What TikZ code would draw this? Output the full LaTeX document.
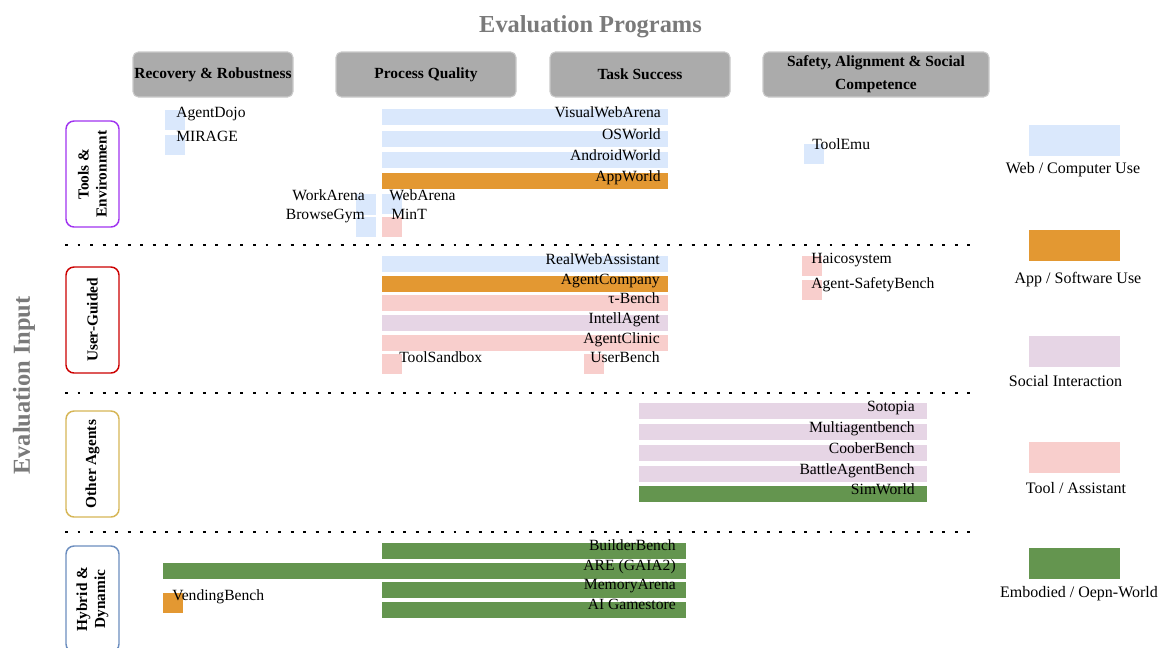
\documentclass[tikz,border=0pt]{standalone}
\usepackage{fontspec}
\setmainfont{Liberation Serif}
\usepackage{xcolor}
\definecolor{WebUse}{HTML}{DAE8FC}
\definecolor{AppUse}{HTML}{E39832}
\definecolor{SocialUse}{HTML}{E6D5E5}
\definecolor{ToolUse}{HTML}{F8CECC}
\definecolor{EmbodiedUse}{HTML}{64954F}
\definecolor{HeadFill}{HTML}{ABABAB}
\definecolor{HeadLine}{HTML}{CACACA}
\definecolor{TitleGray}{HTML}{7A7A7A}
\definecolor{RowTools}{HTML}{A033F0}
\definecolor{RowUser}{HTML}{CC0000}
\definecolor{RowOther}{HTML}{D6B656}
\definecolor{RowHybrid}{HTML}{6C8EBF}
\usepackage{tikz}
\usetikzlibrary{positioning}

\begin{document}
\begin{tikzpicture}[x=0.75pt, y=-0.75pt,
    headbox/.style={draw=HeadLine, fill=HeadFill, rounded corners=4pt, line width=0.8pt,
      minimum height=33.75pt, inner sep=0pt, align=center,
      font=\fontsize{11.6}{17}\selectfont\bfseries},
    rowbox/.style={draw=#1, fill=white, rounded corners=6pt, line width=1.1pt, rotate=90,
      minimum width=79.5pt, minimum height=39.75pt, inner sep=0pt, align=center,
      font=\fontsize{11.5}{13.5}\selectfont\bfseries},
    bench/.style={inner sep=0pt, font=\fontsize{11.7}{14}\selectfont},
    legtext/.style={inner sep=0pt, anchor=base, font=\fontsize{12}{14}\selectfont},
    sepline/.style={line width=2.2pt, dash pattern=on 2.2pt off 7.2pt},
    bigtitle/.style={inner sep=0pt, anchor=base, text=TitleGray,
      font=\fontsize{18.3}{22}\selectfont\bfseries}]
  \useasboundingbox (0,0) rectangle (1161,647);
  \clip (0,0) rectangle (1161,647);

  % Axis titles
  \node[bigtitle] (programs) at (590.5,32) {Evaluation Programs};
  \node[bigtitle, rotate=90] (input) at (30,385.5) {Evaluation Input};

  % Program columns (top)
  \node[headbox, minimum width=120pt] (recovery) at (213,74.5) {Recovery \& Robustness};
  \node[headbox, minimum width=135pt] (process) at (426,74.5) {Process Quality};
  \node[headbox, minimum width=135pt] (success) at (640,74.5) {Task Success};
  \node[headbox, minimum width=169.5pt, text depth=3pt] (safety) at (876,74.5) {Safety, Alignment \& Social\\Competence};

  % Input rows (left)
  \node[rowbox=RowTools] (tools) at (92.5,174) {Tools \&\\Environment};
  \node[rowbox=RowUser] (user) at (92.5,320) {User-Guided};
  \node[rowbox=RowOther] (other) at (92.5,464) {Other Agents};
  \node[rowbox=RowHybrid] (hybrid) at (92.5,599) {Hybrid \&\\Dynamic};

  % Row separators
  \foreach \y in {245, 393, 532} {
    \draw[sepline] (65,\y) -- (975,\y);
  }

  % Tools & Environment
  \foreach \y/\name/\col [count=\i] in {109/VisualWebArena/WebUse, 131/OSWorld/WebUse,
      152/AndroidWorld/WebUse, 173/AppWorld/AppUse} {
    \fill[\col] (382,\y) rectangle (668,\y+16);
    \node[bench, anchor=base east] (te-\i) at (661,\y+8) {\name};
  }
  \fill[WebUse] (356,194) rectangle ++(20,21);
  \fill[WebUse] (356,217) rectangle ++(20,20);
  \node[bench, anchor=base east] (workarena) at (365,200) {WorkArena};
  \node[bench, anchor=base east] (browsegym) at (365,219) {BrowseGym};

  % User-Guided
  \foreach \y/\name/\col [count=\i] in {256/RealWebAssistant/WebUse, 276/AgentCompany/AppUse,
      295/τ-Bench/ToolUse, 315/IntellAgent/SocialUse, 335/AgentClinic/ToolUse} {
    \fill[\col] (382,\y) rectangle (668,\y+16);
    \node[bench, anchor=base east] (ug-\i) at (660,\y+8) {\name};
  }

  % Other Agents
  \foreach \y/\name/\col [count=\i] in {403/Sotopia/SocialUse, 424/Multiagentbench/SocialUse,
      445/CooberBench/SocialUse, 466/BattleAgentBench/SocialUse, 486/SimWorld/EmbodiedUse} {
    \fill[\col] (639,\y) rectangle (927,\y+16);
    \node[bench, anchor=base east] (oa-\i) at (915,\y+8) {\name};
  }

  % Hybrid & Dynamic
  \foreach \y/\x/\name [count=\i] in {543/382/BuilderBench, 563/163/ARE (GAIA2),
      582/382/MemoryArena, 602/382/AI Gamestore} {
    \fill[EmbodiedUse] (\x,\y) rectangle (686,\y+16);
    \node[bench, anchor=base east] (hd-\i) at (676,\y+7) {\name};
  }

  % Single benchmarks (small squares)
  \foreach \x/\y/\col/\tx/\ty/\name [count=\i] in {165/110/WebUse/176/117/AgentDojo,
      165/135/WebUse/176/141/MIRAGE, 382/194/WebUse/389/200/WebArena,
      382/217/ToolUse/391/219/MinT, 804/144/WebUse/812/149/ToolEmu,
      802/256/ToolUse/811/263/Haicosystem, 802/280/ToolUse/811/288/Agent-SafetyBench,
      382/354/ToolUse/399/362/ToolSandbox, 584/354/ToolUse/590/362/UserBench,
      163/593/AppUse/172/600/VendingBench} {
    \fill[\col] (\x,\y) rectangle ++(20,20);
    \node[bench, anchor=base west] (sq-\i) at (\tx,\ty) {\name};
  }

  % Legend
  \foreach \y/\tx/\ty/\col/\name [count=\i] in {125/1073/173/WebUse/{Web / Computer Use},
      230/1078/283/AppUse/{App / Software Use}, 336/1065.5/386/SocialUse/{Social Interaction},
      442/1076/493/ToolUse/{Tool / Assistant}, 548/1079/597/EmbodiedUse/{Embodied / Oepn-World}} {
    \fill[\col] (1029,\y) rectangle ++(91,31);
    \node[legtext] (leg-\i) at (\tx,\ty) {\name};
  }
\end{tikzpicture}
\end{document}
